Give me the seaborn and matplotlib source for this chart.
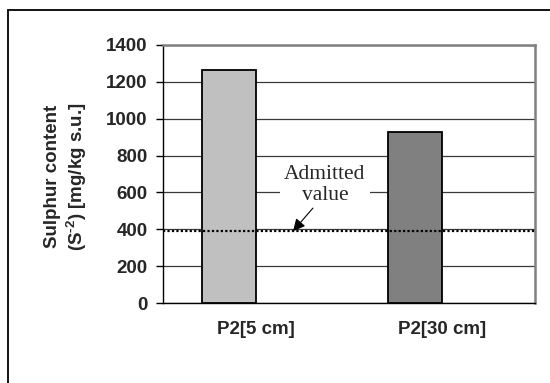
import numpy as np
import pandas as pd
import seaborn as sns
import matplotlib
matplotlib.use("Agg")
import matplotlib.pyplot as plt
from matplotlib.patches import Rectangle

# ---- data ----
categories = ["P2[5 cm]", "P2[30 cm]"]
sulphur = [1265, 930]
bar_colors = ["#C0C0C0", "#808080"]
admitted_value = 390
yticks = [0, 200, 400, 600, 800, 1000, 1200, 1400]
ylabel = "Sulphur content\n(S$^{\\text{-2}}$) [mg/kg s.u.]"
annotation = "Admitted\nvalue"

sns.set_theme(style="white")
plt.rcParams["font.family"] = ["Liberation Sans", "DejaVu Sans"]
plt.rcParams["mathtext.fontset"] = "custom"
plt.rcParams["mathtext.rm"] = "Liberation Sans:bold"
plt.rcParams["mathtext.default"] = "rm"

df = pd.DataFrame({
    "site": categories + categories,
    "series": ["measured"] * 2 + ["blank"] * 2,
    "value": sulphur + [np.nan, np.nan],
})

fig = plt.figure(figsize=(5.5, 3.83), dpi=100)
fig.patch.set_facecolor("white")
ax = fig.add_axes([163 / 550, 1 - 303 / 383, (535 - 163) / 550, (303 - 45) / 383])

sns.barplot(data=df, x="site", y="value", hue="series", hue_order=["measured", "blank"],
            order=categories, width=0.58, dodge=True, legend=False, ax=ax,
            edgecolor="black", linewidth=1.3, errorbar=None, zorder=3)

bars = [p for p in ax.patches if np.isfinite(p.get_height()) and p.get_height() > 0]
bars.sort(key=lambda p: p.get_x())
for p, c in zip(bars, bar_colors):
    p.set_facecolor(c)
    p.set_edgecolor("black")

ax.axhline(admitted_value, color="black", linestyle=(0, (1, 1)), linewidth=1.6, zorder=4)

ax.set_ylim(0, 1400)
ax.set_xlim(-0.5, 1.5)
ax.set_yticks(yticks)
ax.set_yticklabels([str(t) for t in yticks], fontsize=13.5, fontweight="bold")
ax.yaxis.grid(True, color="#3a3a3a", linewidth=0.9, zorder=0)
ax.set_axisbelow(True)

ax.set_xticks(range(len(categories)))
ax.set_xticklabels(categories, fontsize=13.5, fontweight="bold")
ax.set_xticks([-0.5, 0.5, 1.5], minor=True)
ax.tick_params(axis="x", which="major", length=0, pad=13)
ax.tick_params(axis="x", which="minor", length=5, width=1, color="black", direction="out")
ax.tick_params(axis="y", which="major", length=5, width=1, color="black", direction="out", pad=6, left=True)

ax.set_xlabel("")
ax.set_ylabel(ylabel, fontsize=13.5, fontweight="bold", linespacing=1.2)
ax.yaxis.set_label_coords(-0.2, 0.49)

for s in ["left", "bottom"]:
    ax.spines[s].set_color("black")
    ax.spines[s].set_linewidth(1.0)
for s in ["top", "right"]:
    ax.spines[s].set_color("#808080")
    ax.spines[s].set_linewidth(1.8)

ax.text(0.37, 640, annotation, ha="center", va="center", fontsize=15.5,
        family="Liberation Serif", linespacing=1.2,
        bbox=dict(boxstyle="square,pad=0.2", fc="white", ec="none"), zorder=5)
ax.annotate("", xy=(0.199, admitted_value), xytext=(0.306, 515),
            arrowprops=dict(arrowstyle="-|>", color="black", lw=0.8,
                            mutation_scale=18, shrinkA=0, shrinkB=0),
            zorder=5)

fig.add_artist(Rectangle((8 / 550, -0.5), 2, (1 - 10 / 383) + 0.5,
                         transform=fig.transFigure, fill=False,
                         edgecolor="black", linewidth=1.3))

fig.savefig("out.png", dpi=100)
